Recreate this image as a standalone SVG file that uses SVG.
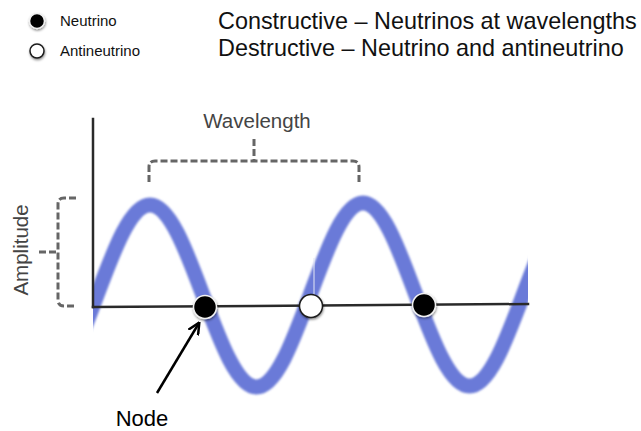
<svg xmlns="http://www.w3.org/2000/svg" width="641" height="431" viewBox="0 0 641 431">
  <style>
    .t { font-family: "Liberation Sans", Arial, sans-serif; }
    .bracket { fill: none; stroke: #666; stroke-width: 3; stroke-dasharray: 7 3; }
    .axis { fill: none; stroke: #2a2a2a; stroke-width: 2.5; stroke-linecap: square; }
    .nu { fill: #000; stroke: #f2f2f2; stroke-width: 1.5; }
    .anu { fill: #fff; stroke: #1a1a1a; stroke-width: 1.5; }
  </style>
  <defs>
    <filter id="soft" x="-5%" y="-5%" width="110%" height="110%">
      <feGaussianBlur stdDeviation="1.2"/>
    </filter>
    <filter id="shadow" x="-50%" y="-50%" width="200%" height="200%">
      <feDropShadow dx="0.5" dy="1.5" stdDeviation="1.2" flood-color="#000" flood-opacity="0.45"/>
    </filter>
    <clipPath id="waveClip">
      <rect x="93" y="0" width="435" height="431"/>
    </clipPath>
    <marker id="arrow" viewBox="0 0 10 10" refX="9" refY="5" markerWidth="5" markerHeight="5" orient="auto" markerUnits="strokeWidth">
      <path d="M0,0.5 L9.5,5 L0,9.5" fill="none" stroke="#000" stroke-width="2"/>
    </marker>
  </defs>

  <g id="legend">
    <circle class="nu" cx="37" cy="21" r="7.5" filter="url(#shadow)"/>
    <text class="t" x="60" y="26" font-size="15" fill="#111">Neutrino</text>
    <circle class="anu" cx="37" cy="51" r="7" filter="url(#shadow)"/>
    <text class="t" x="60" y="56" font-size="15" fill="#111">Antineutrino</text>
  </g>

  <g id="title">
    <text class="t" x="218" y="29" font-size="23.4" fill="#111">Constructive – Neutrinos at wavelengths</text>
    <text class="t" x="218" y="56" font-size="23.4" fill="#111">Destructive – Neutrino and antineutrino</text>
  </g>

  <g id="wave" clip-path="url(#waveClip)">
    <path d="M 43.5 387 C 62.77 387, 79.38 342.62, 96.75 296 C 114.12 249.38, 130.73 205, 150 205 C 169.27 205, 185.88 249.38, 203.25 296 C 220.62 342.62, 237.23 387, 256.5 387 C 275.77 387, 292.38 342.62, 309.75 296 C 327.12 249.38, 343.73 203, 363 203 C 382.27 203, 398.88 249.38, 416.25 296 C 433.62 342.62, 450.23 386, 469.5 386 C 488.77 386, 505.38 342.62, 522.75 296 C 540.12 249.38, 556.73 205, 576 205" fill="none" stroke="#6a7ad8" stroke-width="15" filter="url(#soft)"/>
    <line x1="314" y1="258" x2="314" y2="295" stroke="#e4e7f4" stroke-width="1"/>
  </g>

  <g id="axes">
    <path class="axis" d="M 93 119 V 307"/>
    <path class="axis" d="M 93 307 L 528 304"/>
  </g>

  <g id="wavelength">
    <path class="bracket" d="M 149 182 V 167 Q 149 161 155 161 H 353 Q 359 161 359 167 V 182"/>
    <path class="bracket" d="M 254 139 V 161"/>
    <text class="t" x="257" y="128" font-size="20.5" fill="#444" text-anchor="middle">Wavelength</text>
  </g>

  <g id="amplitude">
    <path class="bracket" d="M 76 198 H 64 Q 58 198 58 204 V 300 Q 58 306 64 306 H 76"/>
    <path class="bracket" d="M 39 252 H 58"/>
    <text class="t" transform="translate(28 250) rotate(-90)" font-size="20.5" fill="#444" text-anchor="middle">Amplitude</text>
  </g>

  <g id="node1">
    <circle class="nu" cx="205" cy="307" r="11.5" filter="url(#shadow)"/>
  </g>
  <g id="node2">
    <circle class="anu" cx="311" cy="306" r="11.5" filter="url(#shadow)"/>
  </g>
  <g id="node3">
    <circle class="nu" cx="424" cy="305" r="11.5" filter="url(#shadow)"/>
  </g>

  <g id="connectors">
    <line x1="157" y1="393" x2="199" y2="323" stroke="#000" stroke-width="2.5" marker-end="url(#arrow)"/>
  </g>

  <g id="node-label">
    <text class="t" x="142" y="426" font-size="22" fill="#000" text-anchor="middle">Node</text>
  </g>
</svg>
